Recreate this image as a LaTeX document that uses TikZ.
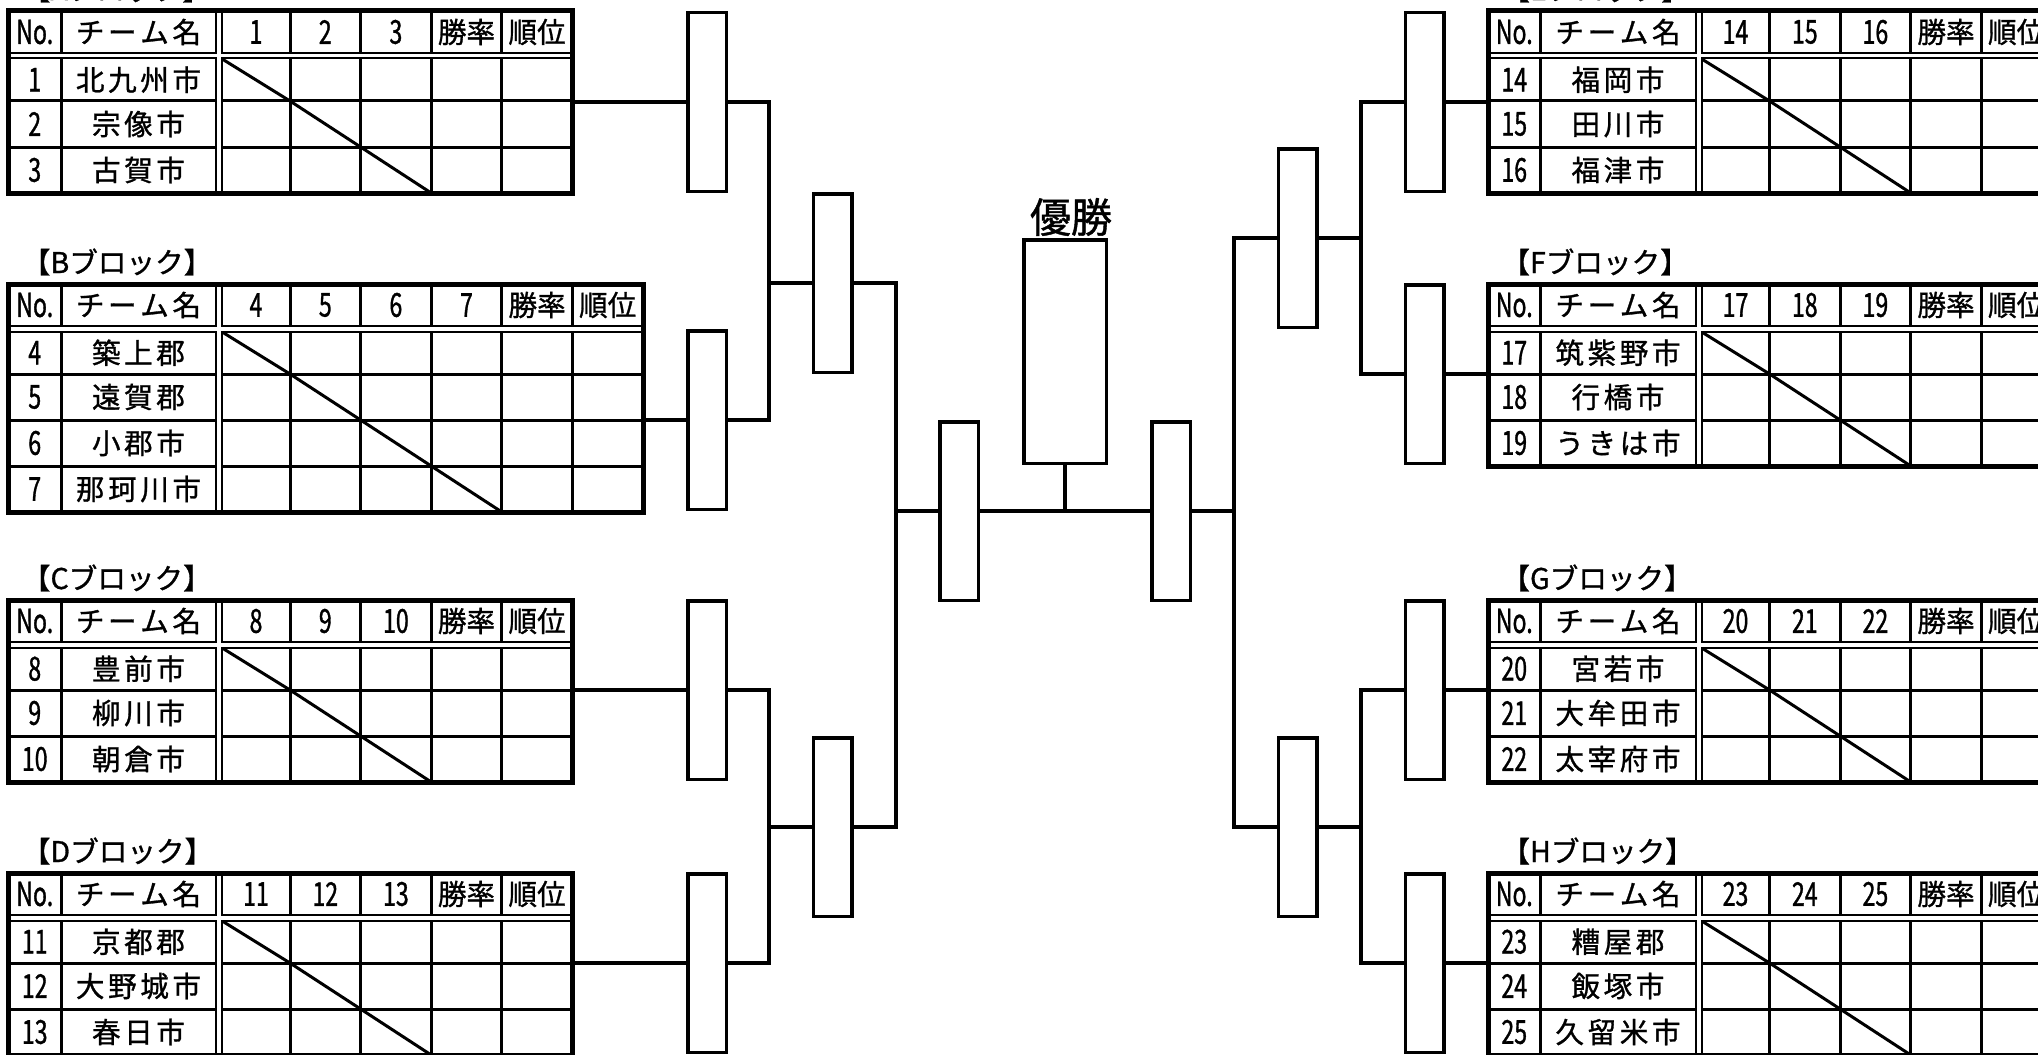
\documentclass[tikz,border=0pt]{standalone}
\usepackage{fontspec}
\setmainfont{Noto Sans CJK JP}
\newfontfamily\jpf[FakeBold=1]{Noto Sans CJK JP}
\newfontfamily\narrowf[FakeStretch=0.7,FakeBold=1]{Noto Sans CJK JP}
\usetikzlibrary{calc}
\newcommand\fnum{\narrowf\fontsize{16.5pt}{16.5pt}\selectfont}
\newcommand\fjp{\jpf\fontsize{14.3pt}{14.3pt}\selectfont}
\newcommand\fbig{\jpf\fontsize{20.5pt}{20.5pt}\selectfont}
\def\spc#1{\spcA#1\relax}
\def\spcA#1{#1\spcB}
\def\spcB#1{\ifx#1\relax\else\hspace{1.8pt}#1\expandafter\spcB\fi}
\tikzset{
  thinline/.style={line width=1.5pt},
  txt/.style={inner sep=0pt, anchor=center},
  rbox/.style={draw, line width=1.75pt, minimum width=19.25pt, minimum height=89.25pt, inner sep=0pt, outer sep=0pt},
  champ/.style={draw, line width=1.75pt, minimum width=41.25pt, minimum height=111.75pt, inner sep=0pt, outer sep=0pt},
  bline/.style={line width=1.75pt},
}
\newcommand\blocktable[5]{%
\begin{scope}[shift={(#1,#2)}]
  \pgfmathsetmacro\W{281.5+70.6*(#3+1)}
  \pgfmathsetmacro\H{90+46*(#3-1)}
  \pgfmathtruncatemacro\nplus{#3+1}
  \pgfmathtruncatemacro\nminus{#3-1}
  % thin grid
  \draw[thinline] (52.5,0) -- (52.5,\H);
  \foreach \k in {1,...,\nplus}{
    \pgfmathsetmacro\cx{281.5+70.6*(\k-1)}
    \draw[thinline] (\cx,0) -- (\cx,\H);
  }
  \foreach \j in {1,...,\nminus}{
    \pgfmathsetmacro\ry{90+46*(\j-1)}
    \draw[thinline] (0,\ry) -- (\W,\ry);
  }
  % double lines
  \draw[line width=3.75pt] (0,44.75) -- (\W,44.75);
  \draw[line width=4pt] (210.5,0) -- (210.5,\H);
  \draw[white,line width=1.75pt] (0,44.75) -- (\W,44.75);
  \draw[white,line width=2pt] (210.5,0) -- (210.5,\H);
  % diagonals
  \foreach \i in {1,...,#3}{
    \pgfmathsetmacro\xa{\i==1 ? 214.5 : 281.5+70.6*(\i-2)}
    \pgfmathsetmacro\ya{\i==1 ? 48.5 : 90+46*(\i-2)}
    \pgfmathsetmacro\xb{281.5+70.6*(\i-1)}
    \pgfmathsetmacro\yb{90+46*(\i-1)}
    \draw[thinline,line cap=round] (\xa,\ya) -- (\xb,\yb);
  }
  % outer border
  \draw[line width=2.5pt] (0,0) rectangle (\W,\H);
  % header texts
  \node[txt] at (26.25,21) {\fnum No.};
  \node[txt] at (130,21) {\fjp\spc{チーム名}};
  \pgfmathsetmacro\cwa{281.5+70.6*(#3-1)+35.3}
  \pgfmathsetmacro\cwb{281.5+70.6*(#3)+35.3}
  \node[txt] at (\cwa,21) {\fjp 勝率};
  \node[txt] at (\cwb,21) {\fjp 順位};
  \node[txt,anchor=west] at (13,-22) {\fjp 【#4ブロック】};
  % rows
  \foreach \num/\name [count=\i] in {#5}{
    \pgfmathsetmacro\ry{\i==1 ? 68.75 : 90+46*(\i-2)+23}
    \pgfmathsetmacro\hx{\i==1 ? 247.5 : 281.5+70.6*(\i-2)+35.3}
    \node[txt] at (26.25,\ry) {\fnum\num};
    \node[txt] at (130,\ry) {\fjp\expandafter\spc\expandafter{\name}};
    \node[txt] at (\hx,21) {\fnum\num};
  }
\end{scope}}
\begin{document}
\begin{tikzpicture}[x=0.5pt,y=-0.5pt]
\useasboundingbox (0,0) rectangle (2038,1054);
\fill[white] (0,0) rectangle (2038,1054);
\clip (0,0) rectangle (2038,1054);

% block tables
\blocktable{8.5}{11}{3}{A}{1/北九州市,2/宗像市,3/古賀市}
\blocktable{8.5}{284}{4}{B}{4/築上郡,5/遠賀郡,6/小郡市,7/那珂川市}
\blocktable{8.5}{600}{3}{C}{8/豊前市,9/柳川市,10/朝倉市}
\blocktable{8.5}{873}{3}{D}{11/京都郡,12/大野城市,13/春日市}
\blocktable{1488}{11}{3}{E}{14/福岡市,15/田川市,16/福津市}
\blocktable{1488}{284}{3}{F}{17/筑紫野市,18/行橋市,19/うきは市}
\blocktable{1488}{600}{3}{G}{20/宮若市,21/大牟田市,22/太宰府市}
\blocktable{1488}{873}{3}{H}{23/糟屋郡,24/飯塚市,25/久留米市}

% bracket boxes
\node[rbox] (LA) at (707,102) {};
\node[rbox] (LB) at (707,420) {};
\node[rbox] (LC) at (707,690) {};
\node[rbox] (LD) at (707,963) {};
\node[rbox] (LAB) at (832.5,283) {};
\node[rbox] (LCD) at (832.5,827) {};
\node[rbox] (LS) at (959,511) {};
\node[champ] (CH) at (1065,351.5) {};
\node[rbox] (RS) at (1171,511) {};
\node[rbox] (REF) at (1297.5,238) {};
\node[rbox] (RGH) at (1297.5,827) {};
\node[rbox] (RE) at (1424.5,102) {};
\node[rbox] (RF) at (1424.5,374) {};
\node[rbox] (RG) at (1424.5,690) {};
\node[rbox] (RH) at (1424.5,963) {};
\node[txt] (title) at (1071,217) {\fbig 優勝};

% junction coordinates
\coordinate (vAB) at (769,283);
\coordinate (vCD) at (769,827);
\coordinate (vL) at (896,511);
\coordinate (vR) at (1234,511);
\coordinate (vEF) at (1361,238);
\coordinate (vGH) at (1361,827);
\coordinate (jc) at (1065,511);
\coordinate (tA) at (572.5,102);
\coordinate (tB) at (643,420);
\coordinate (tC) at (572.5,690);
\coordinate (tD) at (572.5,963);
\coordinate (tE) at (1488,102);
\coordinate (tF) at (1488,374);
\coordinate (tG) at (1488,690);
\coordinate (tH) at (1488,963);

% connectors
\draw[bline] (tA) -- (LA.west);
\draw[bline] (tB) -- (LB.west);
\draw[bline] (tC) -- (LC.west);
\draw[bline] (tD) -- (LD.west);
\draw[bline] (RE.east) -- (tE);
\draw[bline] (RF.east) -- (tF);
\draw[bline] (RG.east) -- (tG);
\draw[bline] (RH.east) -- (tH);
\draw[bline] (LA.east) -| (vAB) |- (LB.east);
\draw[bline] (vAB) -- (LAB.west);
\draw[bline] (LC.east) -| (vCD) |- (LD.east);
\draw[bline] (vCD) -- (LCD.west);
\draw[bline] (LAB.east) -| (vL) |- (LCD.east);
\draw[bline] (vL) -- (LS.west);
\draw[bline] (LS.east) -- (RS.west);
\draw[bline] (CH.south) -- (jc);
\draw[bline] (RS.east) -- (vR);
\draw[bline] (REF.west) -| (vR) |- (RGH.west);
\draw[bline] (RE.west) -| (vEF) |- (RF.west);
\draw[bline] (vEF) -- (REF.east);
\draw[bline] (RG.west) -| (vGH) |- (RH.west);
\draw[bline] (vGH) -- (RGH.east);
\end{tikzpicture}
\end{document}
